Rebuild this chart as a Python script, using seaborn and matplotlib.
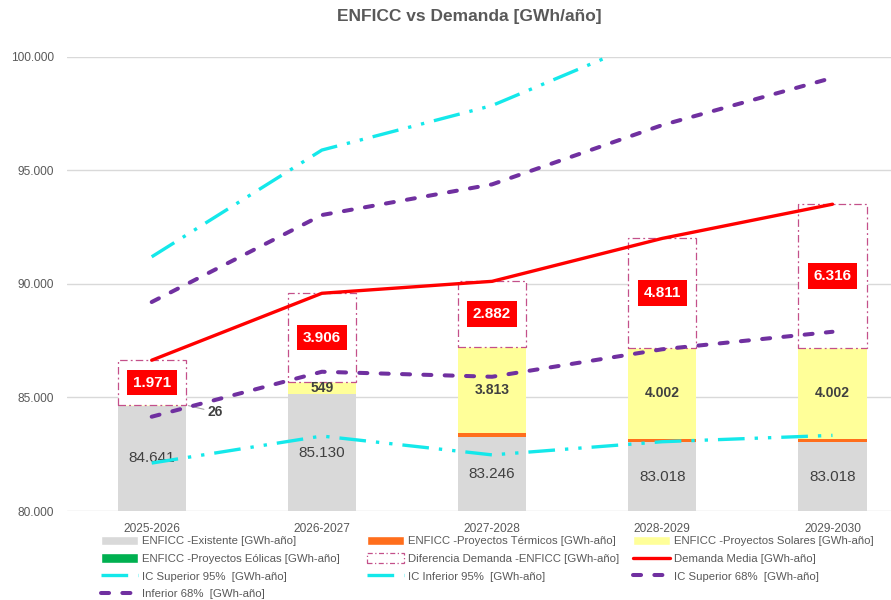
import numpy as np
import matplotlib
matplotlib.use('Agg')
import matplotlib.pyplot as plt
import seaborn as sns
from matplotlib.patches import Patch
from matplotlib.lines import Line2D
from matplotlib.ticker import FuncFormatter

periodos = ['2025-2026', '2026-2027', '2027-2028', '2028-2029', '2029-2030']
existente = [84641, 85130, 83246, 83018, 83018]
termicos = [0, 0, 170, 170, 170]
solares = [26, 549, 3813, 4002, 4002]
eolicas = [0, 0, 0, 0, 0]
diferencia = [1971, 3906, 2882, 4811, 6316]
demanda = [86638, 89585, 90111, 92001, 93506]
ic_sup_95 = [91190, 95890, 97850, 101000, 103000]
ic_inf_95 = [82110, 83300, 82470, 83050, 83330]
ic_sup_68 = [89200, 93030, 94380, 96990, 99070]
inf_68 = [84150, 86130, 85910, 87120, 87890]

GRIS = '#D9D9D9'
NARANJA = '#FF6E1C'
AMARILLO = '#FFFF99'
VERDE = '#00B050'
ROSA = '#C4508A'
ROJO = '#FF0000'
CIAN = '#14E8EA'
MORADO = '#7030A0'
TEXTO = '#595959'

sns.set_theme(style='white')
plt.rcParams['font.family'] = ['Liberation Sans', 'DejaVu Sans']


def fmt(v):
    return f'{v:,.0f}'.replace(',', '.')


fig = plt.figure(figsize=(8.91, 6), dpi=100)
ax = fig.add_axes([66.6 / 891, 89 / 600, 851 / 891, 454.3 / 600])

x = np.arange(len(periodos))
b_term = np.array(existente)
b_sol = b_term + np.array(termicos)
b_eol = b_sol + np.array(solares)
oferta = b_eol + np.array(eolicas)

comunes = dict(width=0.4, saturation=1, errorbar=None, ax=ax)
sns.barplot(x=periodos, y=existente, color=GRIS, linewidth=0, **comunes)
sns.barplot(x=periodos, y=termicos, bottom=b_term, color=NARANJA, linewidth=0, **comunes)
sns.barplot(x=periodos, y=solares, bottom=b_sol, color=AMARILLO, linewidth=0, **comunes)
sns.barplot(x=periodos, y=eolicas, bottom=b_eol, color=VERDE, linewidth=0, **comunes)
sns.barplot(x=periodos, y=diferencia, bottom=oferta, color='white', edgecolor=ROSA,
            linewidth=0.9, linestyle=(0, (6, 2.5, 1.5, 2.5)), **comunes)

# lineas
guion_punto = (0, (8, 3, 1, 3, 1, 3))
guion = (0, (2.0, 3.3))
sns.lineplot(x=x, y=demanda, color=ROJO, lw=2.4, ax=ax, zorder=6, errorbar=None)
sns.lineplot(x=x, y=ic_sup_95, color=CIAN, lw=2.4, linestyle=guion_punto, ax=ax, zorder=5, errorbar=None)
sns.lineplot(x=x, y=ic_inf_95, color=CIAN, lw=2.4, linestyle=guion_punto, ax=ax, zorder=5, errorbar=None)
sns.lineplot(x=x, y=ic_sup_68, color=MORADO, lw=2.9, linestyle=guion, dash_capstyle='round',
             ax=ax, zorder=5, errorbar=None)
sns.lineplot(x=x, y=inf_68, color=MORADO, lw=2.9, linestyle=guion, dash_capstyle='round',
             ax=ax, zorder=5, errorbar=None)

ax.set_xlim(-0.5, 4.5)
ax.set_ylim(80000, 100000)
ax.set_yticks(range(80000, 100001, 5000))
ax.yaxis.set_major_formatter(FuncFormatter(lambda v, p: fmt(v)))
ax.set_xticks(x)
ax.set_xticklabels(periodos)
ax.set_xlabel('')
ax.set_ylabel('')
ax.yaxis.grid(True, color=GRIS, lw=1)
ax.set_axisbelow(True)
sns.despine(ax=ax, left=True, bottom=True)
ax.tick_params(axis='y', length=0, pad=9, labelsize=8.6, colors=TEXTO)
ax.tick_params(axis='x', length=0, pad=8.5, labelsize=8.6, colors=TEXTO)

# etiquetas de datos
y0 = ax.get_ylim()[0]
for i in x:
    ax.text(i, (y0 + existente[i]) / 2, fmt(existente[i]), ha='center', va='center',
            fontsize=11, color='#404040', zorder=4)
    if i > 0:
        ax.text(i, b_sol[i] + solares[i] / 2, fmt(solares[i]), ha='center', va='center',
                fontsize=10, fontweight='bold', color='#404040', zorder=4)
    ax.text(i, oferta[i] + diferencia[i] / 2, fmt(diferencia[i]), ha='center', va='center',
            fontsize=11, fontweight='bold', color='white', zorder=7,
            bbox=dict(boxstyle='square,pad=0.38', fc=ROJO, ec='none'))

ax.annotate(fmt(solares[0]), xy=(0.2, b_eol[0]), xytext=(21, -5), textcoords='offset points',
            ha='center', va='center', fontsize=10, fontweight='bold', color='#404040',
            arrowprops=dict(arrowstyle='-', color='#A6A6A6', lw=0.8, shrinkA=0, shrinkB=2))

fig.text(469 / 891, 1 - 16.7 / 600, 'ENFICC vs Demanda [GWh/año]', ha='center', va='center',
         fontsize=12.5, fontweight='bold', color=TEXTO)

# leyenda en tres columnas fijas
def linea(color, lw, ls, cap='butt'):
    return Line2D([], [], color=color, lw=lw, linestyle=ls, dash_capstyle=cap)


columnas = [
    [(Patch(facecolor=GRIS), 'ENFICC -Existente [GWh-año]'),
     (Patch(facecolor=VERDE), 'ENFICC -Proyectos Eólicas [GWh-año]'),
     (linea(CIAN, 2.4, guion_punto), 'IC Superior 95%  [GWh-año]'),
     (linea(MORADO, 2.9, guion, 'round'), 'Inferior 68%  [GWh-año]')],
    [(Patch(facecolor=NARANJA), 'ENFICC -Proyectos Térmicos [GWh-año]'),
     (Patch(facecolor='white', edgecolor=ROSA, lw=0.9, linestyle=(0, (4, 2, 1, 2))),
      'Diferencia Demanda -ENFICC [GWh-año]'),
     (linea(CIAN, 2.4, guion_punto), 'IC Inferior 95%  [GWh-año]')],
    [(Patch(facecolor=AMARILLO), 'ENFICC -Proyectos Solares [GWh-año]'),
     (linea(ROJO, 2.4, '-'), 'Demanda Media [GWh-año]'),
     (linea(MORADO, 2.9, guion, 'round'), 'IC Superior 68%  [GWh-año]')],
]
for col, xpx in zip(columnas, [101, 367.3, 632.7]):
    fig.legend([h for h, _ in col], [t for _, t in col], loc='upper left',
               bbox_to_anchor=(xpx / 891, 1 - 535.5 / 600), bbox_transform=fig.transFigure,
               frameon=False, fontsize=8.2, handlelength=3.25, handleheight=0.9,
               handletextpad=0.36, labelspacing=0.62, borderpad=0, borderaxespad=0,
               labelcolor=TEXTO)

fig.savefig('out.png', dpi=100)
